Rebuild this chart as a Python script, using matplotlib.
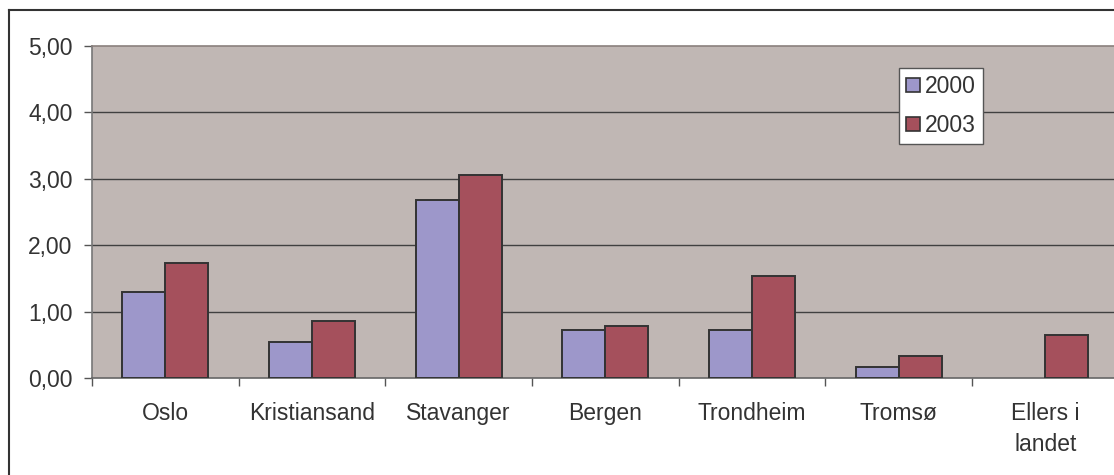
import matplotlib
matplotlib.use("Agg")
import matplotlib.pyplot as plt
from matplotlib.patches import Patch
from matplotlib.lines import Line2D
import numpy as np

categories = ["Oslo", "Kristiansand", "Stavanger", "Bergen", "Trondheim", "Tromsø", "Ellers i\nlandet"]
values_2000 = [1.30, 0.54, 2.68, 0.72, 0.73, 0.17, 0.0]
values_2003 = [1.73, 0.86, 3.06, 0.79, 1.54, 0.33, 0.65]
series_labels = ["2000", "2003"]
yticks = [0, 1, 2, 3, 4, 5]
ytick_labels = ["0,00", "1,00", "2,00", "3,00", "4,00", "5,00"]

plt.rcParams['font.family'] = ['Liberation Sans', 'DejaVu Sans']
W, H = 1114, 475
fig = plt.figure(figsize=(W / 100, H / 100), dpi=100)
fig.patch.set_facecolor("white")

cat_w = 146.67
ax = fig.add_axes([92 / W, 1 - 378 / H, 7 * cat_w / W, (378 - 46) / H])
ax.set_facecolor("#C0B7B4")

x = np.arange(len(categories))
bw = 0.293
c2000 = "#9D97CA"
c2003 = "#A5505C"
edge = "#333333"
lw2000 = [1.4 if v > 0 else 0 for v in values_2000]
lw2003 = [1.4 if v > 0 else 0 for v in values_2003]
ax.bar(x - bw / 2, values_2000, bw, color=c2000, edgecolor=edge, linewidth=lw2000, zorder=3, label=series_labels[0])
ax.bar(x + bw / 2, values_2003, bw, color=c2003, edgecolor=edge, linewidth=lw2003, zorder=3, label=series_labels[1])

ax.set_xlim(-0.5, len(categories) - 0.5)
ax.set_ylim(0, 5)
ax.set_yticks(yticks)
ax.set_yticklabels(ytick_labels)
for yv in yticks[1:-1]:
    ax.axhline(yv, color="#404040", linewidth=1.0, zorder=1)

ax.set_xticks(np.arange(len(categories) + 1) - 0.5)
ax.set_xticklabels([])
ax.set_xticks(x, minor=True)
ax.set_xticklabels(categories, minor=True, linespacing=1.45)
ax.tick_params(axis="x", which="minor", length=0, pad=17, labelsize=16.5, labelcolor="#333333")
ax.tick_params(axis="x", which="major", length=6, width=1, color="#555555", direction="out")
ax.tick_params(axis="y", length=6, width=1, color="#555555", direction="out", pad=8, labelsize=16.5, labelcolor="#333333")

ax.spines["top"].set_color("#8A807D")
ax.spines["top"].set_linewidth(1.2)
ax.spines["right"].set_visible(False)
ax.spines["left"].set_color("#777777")
ax.spines["left"].set_linewidth(1.2)
ax.spines["bottom"].set_color("#666666")
ax.spines["bottom"].set_linewidth(1.2)

handles = [Patch(facecolor=c2000, edgecolor=edge, linewidth=1.2),
           Patch(facecolor=c2003, edgecolor=edge, linewidth=1.2)]
leg = fig.legend(handles, series_labels, loc="upper left",
                 bbox_to_anchor=(899 / W, 1 - 68 / H), bbox_transform=fig.transFigure,
                 fontsize=16.5, frameon=True, fancybox=False, edgecolor="#555555",
                 handlelength=0.6, handleheight=0.6, handletextpad=0.25,
                 labelspacing=0.7, borderpad=0.3, borderaxespad=0, labelcolor="#333333")
leg.get_frame().set_linewidth(1.0)
leg.get_frame().set_facecolor("white")
leg.get_frame().set_alpha(1.0)

# outer chart frame (left and top edges visible)
fig.add_artist(Line2D([9 / W, 9 / W], [0, 1 - 10 / H], transform=fig.transFigure, color="#333333", linewidth=1.5))
fig.add_artist(Line2D([9 / W, 1], [1 - 10 / H, 1 - 10 / H], transform=fig.transFigure, color="#333333", linewidth=1.5))

fig.savefig("out.png", dpi=100, facecolor="white")
